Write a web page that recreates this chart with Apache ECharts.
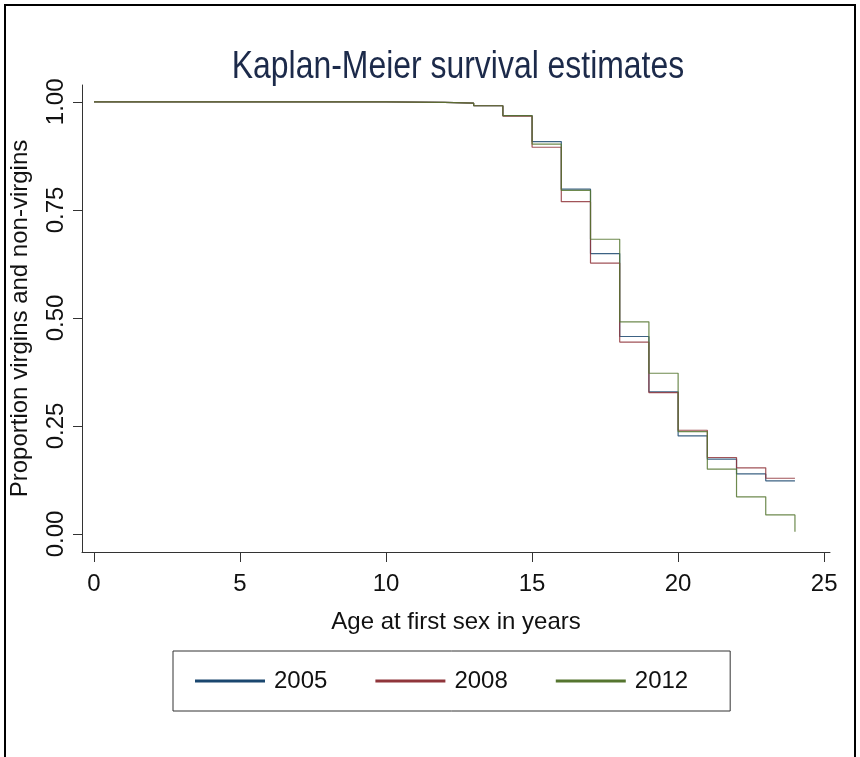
<!DOCTYPE html>
<html>
<head>
<meta charset="utf-8">
<script src="https://cdn.jsdelivr.net/npm/echarts@6/dist/echarts.min.js"></script>
<style>
html,body{margin:0;padding:0;background:#fff;}
#c{width:860px;height:757px;}
</style>
</head>
<body>
<div id="c"></div>
<script>
const ages = [0, 10, 12, 13, 14, 15, 16, 17, 18, 19, 20, 21, 22, 23, 24];
const s2005 = [1, 0.999, 0.997, 0.991, 0.968, 0.908, 0.798, 0.649, 0.457, 0.329, 0.227, 0.173, 0.139, 0.123, 0.123];
const s2008 = [1, 0.999, 0.997, 0.991, 0.967, 0.895, 0.769, 0.627, 0.444, 0.327, 0.240, 0.177, 0.153, 0.129, 0.129];
const s2012 = [1, 0.999, 0.997, 0.991, 0.968, 0.902, 0.795, 0.682, 0.491, 0.372, 0.237, 0.150, 0.086, 0.044, 0.005];
const xTicks = [0, 5, 10, 15, 20, 25];
const yTicks = [0, 0.25, 0.5, 0.75, 1];
const seriesNames = ['2005', '2008', '2012'];
const titleText = 'Kaplan-Meier survival estimates';
const colors = ['#1a476f', '#90353b', '#55752f'];

const FONT = "'Liberation Sans', Arial, sans-serif";
const pts = s => ages.map((a, i) => [a, s[i]]);

const chart = echarts.init(document.getElementById('c'));
chart.setOption({
  backgroundColor: '#fff',
  animation: false,
  grid: {left: 82, right: 30, top: 85, bottom: 205, containLabel: false},
  xAxis: {
    type: 'value',
    min: -0.41, max: 25.2,
    name: 'Age at first sex in years',
    nameLocation: 'middle',
    nameGap: 58,
    nameTextStyle: {fontFamily: FONT, fontSize: 24, color: '#111'},
    axisLine: {show: true, onZero: false, lineStyle: {color: '#333', width: 1}},
    axisTick: {show: true, length: 10, lineStyle: {color: '#333'}, customValues: xTicks},
    axisLabel: {fontFamily: FONT, fontSize: 24, color: '#111', margin: 20, customValues: xTicks},
    splitLine: {show: false}
  },
  yAxis: {
    type: 'value',
    min: -0.0417, max: 1.039,
    name: 'Proportion virgins and non-virgins',
    nameLocation: 'middle',
    nameGap: 50,
    nameTextStyle: {fontFamily: FONT, fontSize: 24, color: '#111'},
    axisLine: {show: true, onZero: false, lineStyle: {color: '#333', width: 1}},
    axisTick: {show: true, length: 9, lineStyle: {color: '#333'}, customValues: yTicks},
    axisLabel: {fontFamily: FONT, fontSize: 24, color: '#111', margin: 14, rotate: 90,
      customValues: yTicks, formatter: v => v.toFixed(2)},
    splitLine: {show: false}
  },
  legend: {
    data: seriesNames,
    left: 173, top: 651,
    orient: 'horizontal',
    icon: 'rect',
    itemWidth: 70, itemHeight: 3,
    itemGap: 48,
    padding: [18, 42, 18, 22],
    borderColor: '#333', borderWidth: 1,
    textStyle: {fontFamily: FONT, fontSize: 24, color: '#111', padding: [0, 0, 0, 4]}
  },
  graphic: [{
    type: 'rect', silent: true,
    shape: {x: 5, y: 5, width: 850, height: 780},
    style: {fill: 'none', stroke: '#000', lineWidth: 2}
  }, {
    type: 'text', silent: true,
    x: 458, y: 68, scaleX: 0.84,
    style: {text: titleText, font: "38px 'Liberation Sans', Arial, sans-serif",
      fill: '#1c2a4a', textAlign: 'center', textVerticalAlign: 'middle'}
  }],
  series: seriesNames.map((n, k) => ({
    name: n,
    type: 'line',
    step: 'end',
    symbol: 'none',
    data: pts([s2005, s2008, s2012][k]),
    lineStyle: {color: colors[k], width: 1.2, opacity: 0.85},
    itemStyle: {color: colors[k]}
  }))
});
</script>
</body>
</html>
